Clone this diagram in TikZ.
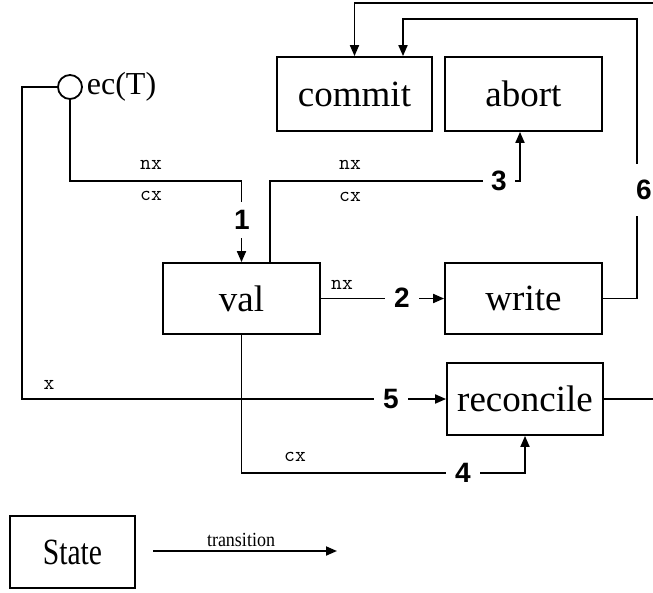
\documentclass[tikz,border=0pt]{standalone}
\usepackage{fontspec}
\setmainfont{Liberation Serif}
\newfontfamily\lsans{Liberation Sans}
\usetikzlibrary{arrows.meta}
\begin{document}
\begin{tikzpicture}[x=1pt,y=-1pt,
  line width=1.8pt,
  statebox/.style={draw, inner sep=0pt, font=\fontsize{37}{40}\selectfont},
  arr/.style={-{Triangle[length=11pt,width=9pt]}},
  num/.style={fill=white, font=\lsans\bfseries\fontsize{28}{30}\selectfont, inner xsep=9pt, inner ysep=7pt},
  lbl/.style={font=\ttfamily\fontsize{21}{22}\selectfont, inner sep=0pt},
]
\useasboundingbox (0,0) rectangle (653,592);
% states
\node[statebox, minimum width=155pt, minimum height=74pt] (commit) at (354.5,94) {commit};
\node[statebox, minimum width=157pt, minimum height=74pt] (abort) at (523.5,94) {abort};
\node[statebox, minimum width=157pt, minimum height=71pt] (val) at (241.5,298.5) {val};
\node[statebox, minimum width=157pt, minimum height=71pt] (write) at (523.5,298.5) {write};
\node[statebox, minimum width=156pt, minimum height=72pt] (reconcile) at (525,399) {reconcile};
\node[statebox, minimum width=125pt, minimum height=72pt] (state) at (72.5,552) {\scalebox{0.8}[1]{State}};
\node[draw, circle, minimum size=24pt, inner sep=0pt] (ec) at (70,87) {};
\node[anchor=west, inner sep=0pt, font=\fontsize{32}{34}\selectfont] (ecl) at (86,87) {ec(T)};
% corner coordinates
\coordinate (c1) at (241.5,181);
\coordinate (c3) at (270,181);
\coordinate (c6) at (637,19);
\coordinate (c7) at (660,3);
\coordinate (c5) at (22,87);
\coordinate (c4) at (242,473);
\coordinate (t1) at (153,551);
\coordinate (t2) at (337,551);
% transitions
\draw[arr] (ec.south) |- (c1) -- (val.north);
\draw[arr] (val.north -| c3) -- (c3) -| ([xshift=-3.5pt]abort.south);
\draw[arr] (val.east) -- (write.west);
\draw[arr] (write.east) -| (c6) -| ([xshift=48.5pt]commit.north);
\draw[arr] (reconcile.east) -| (c7) -| (commit.north);
\draw[arr] (ec.west) -| (c5) |- (reconcile.west);
\draw[arr] (val.south) |- (c4) -| (reconcile.south);
\draw[arr] (t1) -- (t2);
% number labels
\node[num, inner ysep=8pt] (n1) at (242,220) {1};
\node[num] (n2) at (402,298) {2};
\node[num, inner xsep=8pt] (n3) at (499,181) {3};
\node[num] (n4) at (463,473) {4};
\node[num] (n5) at (391,399) {5};
\node[num, inner xsep=3pt, inner ysep=16pt] (n6) at (644,190) {6};
% guards
\node[lbl] (g1a) at (151,165) {nx};
\node[lbl] (g1b) at (151,196) {cx};
\node[lbl] (g3a) at (350,165) {nx};
\node[lbl] (g3b) at (350,197) {cx};
\node[lbl] (g2) at (342,285) {nx};
\node[lbl] (g5) at (49,385) {x};
\node[lbl] (g4) at (295,457) {cx};
\node[font=\fontsize{20}{22}\selectfont, inner sep=0pt] (tr) at (241,540) {\scalebox{0.9}[1]{transition}};
\end{tikzpicture}
\end{document}
